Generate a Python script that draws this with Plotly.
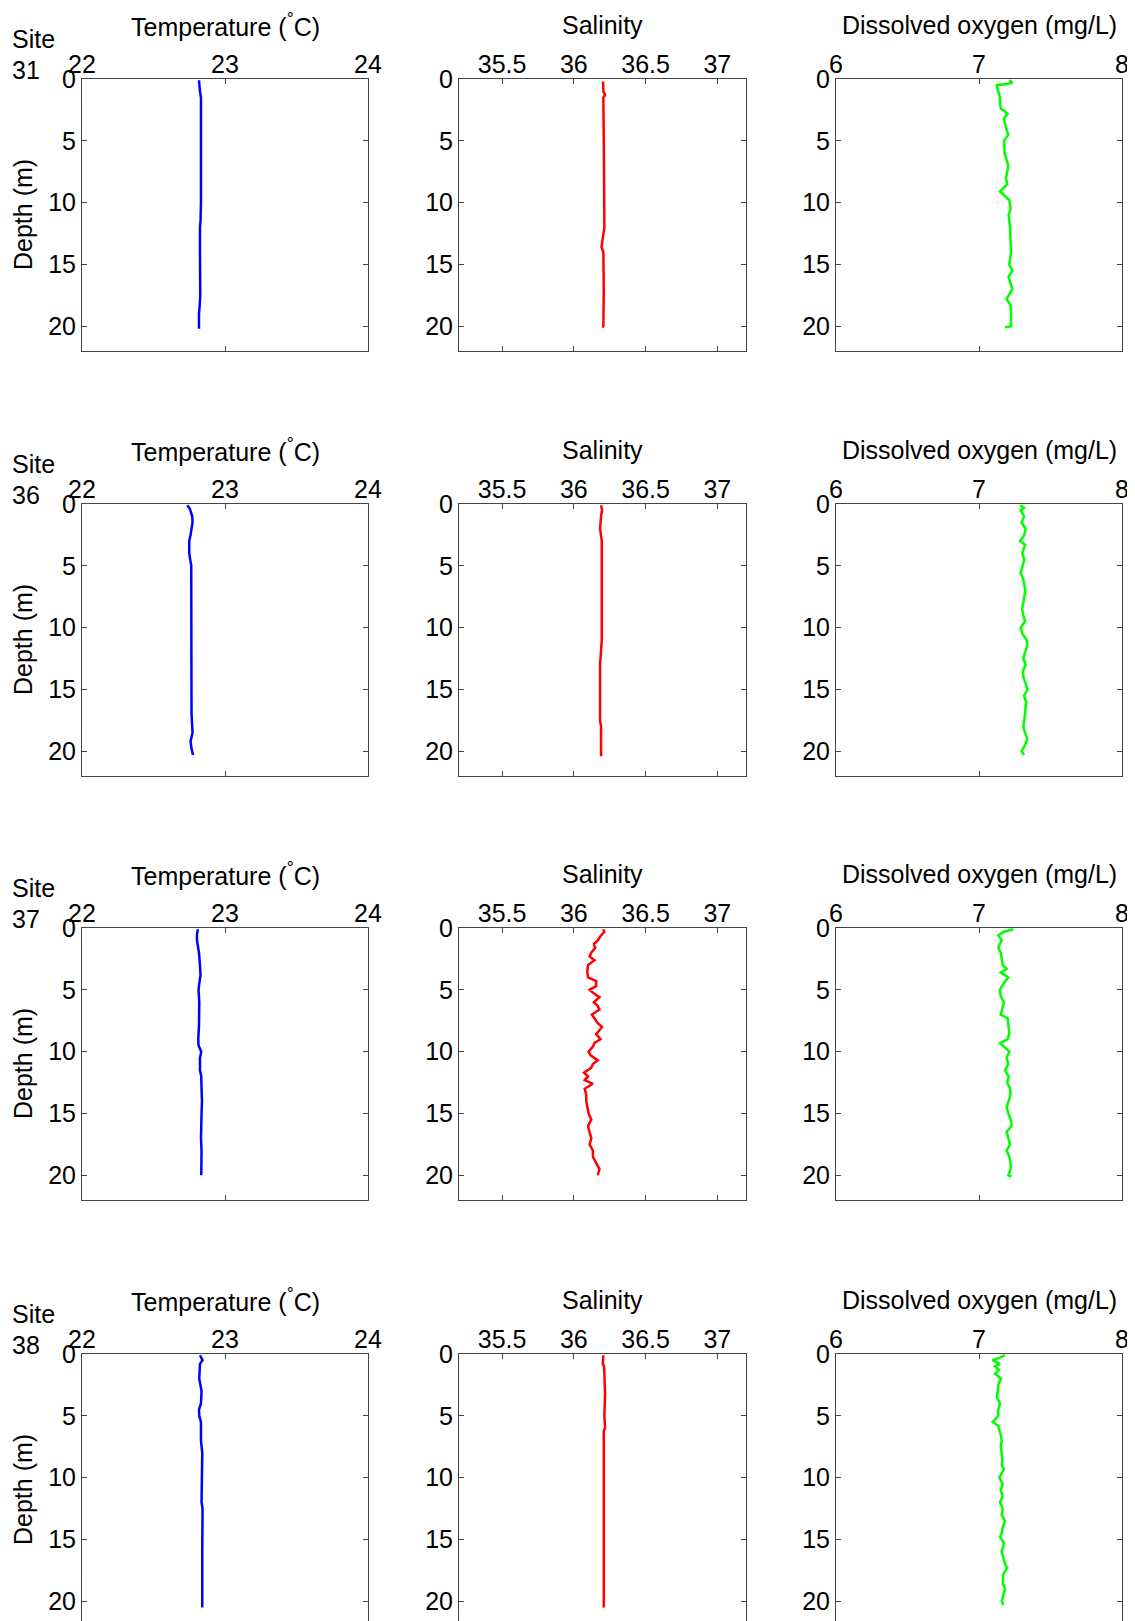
import plotly.graph_objects as go

W, H = 1135, 1621
OFF = 8                      # page body margin of the html page
FW, FH = W - OFF, H - OFF    # figure size so that it ends at the window edge

# ---------------- data ----------------
sites = ["31", "36", "37", "38"]

# Site 31
t31_depth = [0.1, 0.5, 1.0, 1.5, 3.0, 5.0, 7.0, 9.5, 10.0, 11.5, 12.0, 14.0, 16.0, 17.5, 18.5, 19.0, 20.2]
t31_temp = [22.818, 22.820, 22.825, 22.832, 22.832, 22.836, 22.836, 22.836, 22.832, 22.829, 22.825, 22.825, 22.829, 22.827, 22.822, 22.818, 22.818]
s31_depth = [0.2, 1.0, 1.3, 1.5, 5.0, 10.0, 12.0, 13.6, 14.0, 17.0, 20.0, 20.1]
s31_sal = [36.204, 36.206, 36.218, 36.206, 36.209, 36.209, 36.213, 36.193, 36.206, 36.209, 36.206, 36.200]
o31_depth = [0.1, 0.3, 0.4, 0.5, 1.0, 1.5, 2.0, 2.4, 2.8, 3.2, 4.0, 4.5, 5.0, 6.0, 7.0, 8.0, 8.5, 9.1, 9.4, 9.8,
             10.5, 11.0, 12.0, 13.0, 14.0, 15.0, 15.5, 16.0, 17.0, 17.8, 18.3, 19.0, 20.0, 20.1]
o31_do = [7.212, 7.233, 7.193, 7.124, 7.135, 7.147, 7.147, 7.154, 7.200, 7.175, 7.189, 7.205, 7.175, 7.179, 7.205, 7.189, 7.198, 7.147, 7.175, 7.212,
          7.221, 7.207, 7.217, 7.221, 7.224, 7.212, 7.233, 7.207, 7.233, 7.193, 7.221, 7.224, 7.224, 7.182]

# Site 36
t36_depth = [0.1, 0.4, 1.0, 1.5, 2.5, 3.0, 4.0, 4.5, 5.0, 6.0, 8.0, 10.0, 12.0, 14.0, 15.0, 17.0, 18.5, 19.2, 19.8, 20.3]
t36_temp = [22.736, 22.755, 22.771, 22.773, 22.759, 22.750, 22.750, 22.755, 22.764, 22.764, 22.764, 22.764, 22.766, 22.764, 22.762, 22.766, 22.773, 22.759, 22.766, 22.776]
s36_depth = [0.1, 0.5, 1.0, 2.0, 3.0, 4.0, 5.0, 8.0, 11.0, 13.0, 15.0, 17.5, 18.0, 20.4]
s36_sal = [36.190, 36.197, 36.190, 36.183, 36.195, 36.195, 36.190, 36.190, 36.195, 36.183, 36.183, 36.183, 36.190, 36.190]
o36_depth = [0.1, 0.3, 0.5, 1.0, 1.5, 2.0, 2.5, 3.0, 3.3, 4.0, 4.5, 5.0, 5.6, 6.0, 7.0, 8.0, 8.5, 9.0, 9.5, 10.0,
             10.5, 11.0, 11.5, 12.0, 12.5, 13.0, 13.5, 14.0, 14.5, 15.0, 15.5, 16.0, 17.0, 18.0, 18.5, 19.0, 19.5, 20.0, 20.3]
o36_do = [7.287, 7.315, 7.291, 7.315, 7.298, 7.326, 7.317, 7.287, 7.322, 7.303, 7.317, 7.305, 7.291, 7.308, 7.324, 7.310, 7.301, 7.310, 7.322, 7.291,
          7.303, 7.333, 7.338, 7.322, 7.310, 7.326, 7.308, 7.310, 7.326, 7.340, 7.315, 7.329, 7.322, 7.310, 7.322, 7.338, 7.322, 7.298, 7.315]

# Site 37
t37_depth = [0.1, 0.5, 1.0, 2.0, 3.0, 3.8, 4.5, 5.0, 6.0, 7.0, 8.0, 9.0, 9.5, 10.0, 10.5, 11.5, 12.0, 13.0, 14.0, 15.0, 16.0, 17.0, 18.0, 19.0, 20.0]
t37_temp = [22.811, 22.804, 22.804, 22.818, 22.825, 22.829, 22.820, 22.815, 22.820, 22.820, 22.818, 22.813, 22.815, 22.834, 22.825, 22.825, 22.834, 22.836, 22.839, 22.836, 22.834, 22.832, 22.836, 22.836, 22.834]
s37_depth = [0.1, 0.3, 0.6, 1.0, 1.3, 1.6, 2.0, 2.3, 2.6, 3.0, 3.5, 4.0, 4.3, 4.7, 5.0, 5.3, 5.6, 6.0, 6.3, 6.6,
             7.0, 7.3, 7.7, 8.0, 8.3, 8.6, 9.0, 9.3, 9.6, 10.0, 10.3, 10.7, 11.0, 11.3, 11.7, 12.0, 12.3, 12.6, 13.0, 13.5,
             14.0, 15.0, 15.5, 16.0, 16.5, 17.0, 17.5, 18.0, 18.5, 19.0, 19.5, 20.0]
s37_sal = [36.204, 36.213, 36.190, 36.167, 36.140, 36.149, 36.122, 36.110, 36.144, 36.099, 36.094, 36.099, 36.156, 36.156, 36.110, 36.140, 36.179, 36.140, 36.167, 36.179,
           36.126, 36.144, 36.167, 36.197, 36.179, 36.156, 36.186, 36.144, 36.133, 36.103, 36.117, 36.167, 36.133, 36.122, 36.071, 36.099, 36.076, 36.133, 36.076, 36.087,
           36.087, 36.103, 36.122, 36.099, 36.110, 36.122, 36.110, 36.133, 36.133, 36.156, 36.179, 36.167]
o37_depth = [0.1, 0.3, 0.6, 1.0, 1.3, 1.6, 2.0, 2.5, 3.0, 3.3, 3.6, 4.0, 4.5, 5.0, 5.5, 6.0, 6.5, 7.0, 7.3, 8.0,
             8.5, 9.0, 9.3, 9.6, 10.0, 10.5, 11.0, 11.5, 12.0, 12.5, 13.0, 13.5, 14.0, 14.5, 15.0, 15.5, 16.0, 16.5, 17.0, 17.5,
             18.0, 18.5, 19.0, 19.5, 20.0, 20.1]
o37_do = [7.240, 7.175, 7.135, 7.159, 7.147, 7.135, 7.152, 7.159, 7.166, 7.193, 7.152, 7.205, 7.170, 7.147, 7.152, 7.175, 7.166, 7.152, 7.200, 7.205,
          7.212, 7.200, 7.147, 7.175, 7.212, 7.193, 7.205, 7.182, 7.207, 7.198, 7.217, 7.221, 7.205, 7.193, 7.205, 7.221, 7.228, 7.193, 7.205, 7.217,
          7.193, 7.212, 7.221, 7.221, 7.205, 7.228]

# Site 38
t38_depth = [0.1, 0.5, 0.8, 1.5, 2.0, 3.0, 4.0, 4.5, 5.0, 5.5, 7.0, 8.0, 9.0, 10.0, 12.0, 12.5, 14.0, 16.0, 18.0, 20.0, 20.5]
t38_temp = [22.825, 22.843, 22.825, 22.820, 22.820, 22.836, 22.832, 22.818, 22.820, 22.832, 22.832, 22.841, 22.841, 22.836, 22.836, 22.843, 22.841, 22.841, 22.841, 22.841, 22.841]
s38_depth = [0.1, 0.8, 1.0, 2.0, 3.2, 5.0, 6.0, 6.2, 10.0, 15.0, 20.5]
s38_sal = [36.206, 36.202, 36.211, 36.213, 36.218, 36.213, 36.218, 36.209, 36.209, 36.209, 36.209]
o38_depth = [0.1, 0.3, 0.5, 0.8, 1.0, 1.3, 1.6, 2.0, 2.5, 3.0, 3.5, 4.0, 4.5, 5.0, 5.5, 5.8, 6.2, 6.5, 7.0, 7.5,
             8.0, 8.5, 9.0, 9.3, 10.0, 10.5, 11.0, 11.5, 12.0, 12.5, 13.0, 13.5, 14.0, 14.5, 14.8, 15.3, 16.0, 16.5, 17.0, 17.3,
             17.8, 18.5, 19.0, 19.5, 20.0, 20.3]
o38_do = [7.182, 7.147, 7.093, 7.147, 7.112, 7.140, 7.112, 7.154, 7.135, 7.133, 7.124, 7.147, 7.135, 7.135, 7.096, 7.135, 7.142, 7.152, 7.159, 7.152,
          7.159, 7.163, 7.159, 7.175, 7.142, 7.166, 7.152, 7.166, 7.147, 7.166, 7.159, 7.182, 7.166, 7.159, 7.147, 7.175, 7.159, 7.170, 7.182, 7.198,
          7.170, 7.166, 7.182, 7.170, 7.159, 7.170]

temp_ticks = [22, 23, 24]
sal_ticks = [35.5, 36, 36.5, 37]
do_ticks = [6, 7, 8]
depth_ticks = [0, 5, 10, 15, 20]

titles = ["Temperature (<sup>°</sup>C)", "Salinity", "Dissolved oxygen (mg/L)"]
depth_title = "Depth (m)"

profiles = [
    [(t31_temp, t31_depth), (s31_sal, s31_depth), (o31_do, o31_depth)],
    [(t36_temp, t36_depth), (s36_sal, s36_depth), (o36_do, o36_depth)],
    [(t37_temp, t37_depth), (s37_sal, s37_depth), (o37_do, o37_depth)],
    [(t38_temp, t38_depth), (s38_sal, s38_depth), (o38_do, o38_depth)],
]

# ---------------- layout ----------------
colors = ["#0000FF", "#FF0000", "#00FF00"]
xranges = [[22, 24], [35.2, 37.2], [6, 8]]
xticks = [temp_ticks, sal_ticks, do_ticks]
col_px = [(82, 368), (459, 746), (836, 1122)]   # window pixel positions
row_top_px = [79, 504, 928, 1354]
row_h_px = 272
FONT = "Liberation Sans, Arial, sans-serif"
FS = 25
AX = "#444444"


def px_x(p):
    return (p - OFF) / FW


def px_y(p):
    return 1 - (p - OFF) / FH


fig = go.Figure()
layout = dict(width=FW, height=FH, margin=dict(l=0, r=0, t=0, b=0, pad=0, autoexpand=False),
              template="none",
              paper_bgcolor="white", plot_bgcolor="white", showlegend=False,
              font=dict(family=FONT, size=FS, color="black"))
annotations = []

k = 0
for r in range(4):
    top = row_top_px[r]
    bot = min(top + row_h_px, H)
    ydom = [max(0.0, px_y(bot)), px_y(top)]
    yr = [22 * (bot - top) / row_h_px, 0]
    for c in range(3):
        k += 1
        xs = "" if k == 1 else str(k)
        x0, x1 = col_px[c]
        vals, dep = profiles[r][c]
        fig.add_trace(go.Scatter(x=vals, y=dep, mode="lines",
                                 line=dict(color=colors[c], width=2.5),
                                 xaxis="x" + xs, yaxis="y" + xs, hoverinfo="skip"))
        last = (r == 3)
        layout["xaxis" + xs] = dict(domain=[px_x(x0), px_x(x1)], range=xranges[c], side="top",
                                    anchor="y" + xs, tickvals=xticks[c],
                                    ticktext=[("%g" % v) for v in xticks[c]],
                                    ticks="inside", ticklen=5, tickcolor=AX,
                                    ticklabelstandoff=-5,
                                    showline=True, linecolor=AX, linewidth=1,
                                    mirror=False if last else "ticks",
                                    showgrid=False, zeroline=False, automargin=False,
                                    tickfont=dict(family=FONT, size=FS, color="black"))
        layout["yaxis" + xs] = dict(domain=ydom, range=yr, anchor="x" + xs,
                                    tickvals=depth_ticks, ticks="inside", ticklen=5,
                                    tickcolor=AX, showline=True, linecolor=AX, linewidth=1,
                                    mirror="ticks", showgrid=False, zeroline=False, automargin=False,
                                    tickfont=dict(family=FONT, size=FS, color="black"))
        annotations.append(dict(text=titles[c], x=px_x((x0 + x1) / 2), y=px_y(top - 54),
                                xref="paper", yref="paper", showarrow=False,
                                xanchor="center", yanchor="middle",
                                font=dict(family=FONT, size=FS, color="black")))
    annotations.append(dict(text="Site", x=px_x(10), y=px_y(top - 40), xref="paper", yref="paper",
                            showarrow=False, xanchor="left", yanchor="middle",
                            font=dict(family=FONT, size=FS, color="black")))
    annotations.append(dict(text=sites[r], x=px_x(10), y=px_y(top - 9), xref="paper", yref="paper",
                            showarrow=False, xanchor="left", yanchor="middle",
                            font=dict(family=FONT, size=FS, color="black")))
    annotations.append(dict(text=depth_title, x=px_x(23), y=px_y(top + 136), xref="paper", yref="paper",
                            showarrow=False, textangle=-90, xanchor="center", yanchor="middle",
                            font=dict(family=FONT, size=FS, color="black")))

layout["annotations"] = annotations
fig.update_layout(**layout)
fig.write_html("out.html")
